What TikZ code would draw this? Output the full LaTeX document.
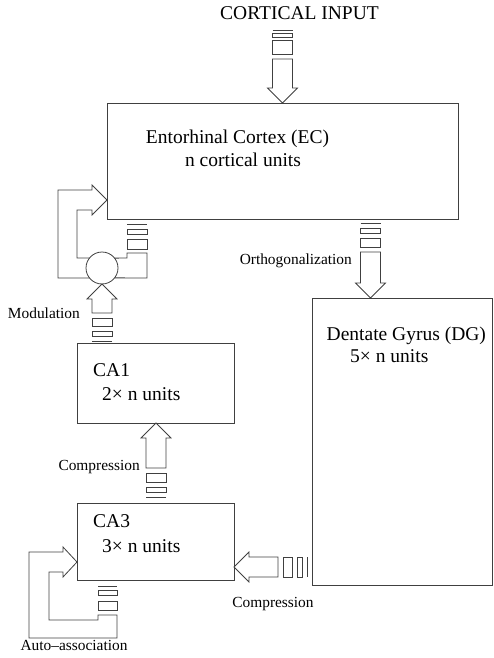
\documentclass[tikz,border=0pt]{standalone}
\usepackage{fontspec}
\setmainfont{Liberation Serif}
\usetikzlibrary{calc}
\tikzset{
 ln/.style={draw=black!75, line width=0.8pt, line join=miter},
 boxnode/.style={ln, rectangle, inner sep=0pt, outer sep=0pt},
 bigtxt/.style={font=\fontsize{19.5}{23}\selectfont, inner sep=0pt},
 smalltxt/.style={font=\fontsize{15.4}{18}\selectfont, inner sep=0pt},
}
% #1 tip, #2 rotation, #3 shaft length, #4 big block, #5 gap, #6 thin block
\newcommand\hollowarrow[6]{%
 \begin{scope}[shift={(#1)}, rotate=#2]
  \draw[ln] (0,0) -- (-15,-15) -- (-10,-15) -- (-10,{-15-#3}) -- (10,{-15-#3}) -- (10,-15) -- (15,-15) -- cycle;
  \draw[ln] (-10,{-20-#3}) rectangle (10,{-20-#3-#4});
  \draw[ln] (-10,{-20-#3-#4-#5}) rectangle (10,{-20-#3-#4-#5-#6});
  \draw[ln] (-10,{-20-#3-#4-#5-#6-#5}) -- (10,{-20-#3-#4-#5-#6-#5});
 \end{scope}}
\begin{document}
\begin{tikzpicture}[x=1pt,y=-1pt]
\useasboundingbox (0,0) rectangle (494,658);
% boxes
\node[boxnode, minimum width=351pt, minimum height=116pt] (ec) at (282.5,161) {};
\node[boxnode, minimum width=180pt, minimum height=287pt] (dg) at (402,441.5) {};
\node[boxnode, minimum width=157pt, minimum height=80pt] (ca1) at (155.5,383) {};
\node[boxnode, minimum width=157pt, minimum height=77pt] (ca3) at (155.5,541.5) {};
\node[ln, circle, minimum size=32pt, inner sep=0pt, outer sep=0pt] (mod) at (102,268) {};
% texts
\node[bigtxt, anchor=base west] (cin) at (220,19.5) {CORTICAL INPUT};
\node[bigtxt, anchor=base] (ect1) at (237.5,143) {Entorhinal Cortex (EC)};
\node[bigtxt, anchor=base] (ect2) at (243,166) {n cortical units};
\node[bigtxt, anchor=base west] (dgt1) at (326.5,340) {Dentate Gyrus (DG)};
\node[bigtxt, anchor=base west] (dgt2) at (350,362) {5× n units};
\node[bigtxt, anchor=base west] (ca1t1) at (93,376) {CA1};
\node[bigtxt, anchor=base west] (ca1t2) at (102,400) {2× n units};
\node[bigtxt, anchor=base west] (ca3t1) at (93,527) {CA3};
\node[bigtxt, anchor=base west] (ca3t2) at (102,552) {3× n units};
\node[smalltxt, anchor=base east] (lort) at (352,264) {Orthogonalization};
\node[smalltxt, anchor=base east] (lmod) at (80,318) {Modulation};
\node[smalltxt, anchor=base east] (lcomp1) at (140,470) {Compression};
\node[smalltxt, anchor=base] (lcomp2) at (273,607) {Compression};
\node[smalltxt, anchor=base] (lauto) at (74,650) {Auto–association};
% arrow tips
\coordinate (t1) at ($(ec.north west)+(175.5,0)$);
\coordinate (t2) at ($(dg.north west)+(58.5,0)$);
\coordinate (t3) at (mod.south);
\coordinate (t4) at ($(ca1.south west)+(79,0)$);
\coordinate (t5) at ($(ca3.east)+(0,25.5)$);
\coordinate (t6) at ($(ec.south west)+(0,-19)$);
\coordinate (t7) at ($(ca3.south west)+(0,-18)$);
% hollow arrows
\hollowarrow{t1}{0}{29}{14}{3}{4}
\hollowarrow{t2}{0}{31}{9}{5}{5}
\hollowarrow{t3}{180}{14}{8}{5}{5}
\hollowarrow{t4}{180}{30}{9}{5}{5}
\hollowarrow{t5}{-90}{29}{9}{5}{5}
% modulation loop
\draw[ln] (127,224) -- (147,224);
\draw[ln] (127,229) rectangle (147,234);
\draw[ln] (127,239) rectangle (147,249);
\draw[ln] (mod.-38.68) -- (147,278) -- (147,253) -- (127,253) -- (127,258) -- (mod.38.68);
\draw[ln] (mod.141.32) -- (77,258) -- (77,210) -- (92,210) -- (92,215) -- (t6)
  -- (92,185) -- (92,190) -- (58,190) -- (58,278) -- (mod.-141.32);
% auto-association loop
\draw[ln] (98,586) -- (117,586);
\draw[ln] (98,590) rectangle (117,595);
\draw[ln] (98,601) rectangle (117,610);
\draw[ln] (117,615) -- (117,638) -- (29,638) -- (29,552) -- (63,552) -- (63,547) -- (t7)
  -- (63,577) -- (63,572) -- (49,572) -- (49,620) -- (98,620) -- (98,615) -- cycle;
\end{tikzpicture}
\end{document}
